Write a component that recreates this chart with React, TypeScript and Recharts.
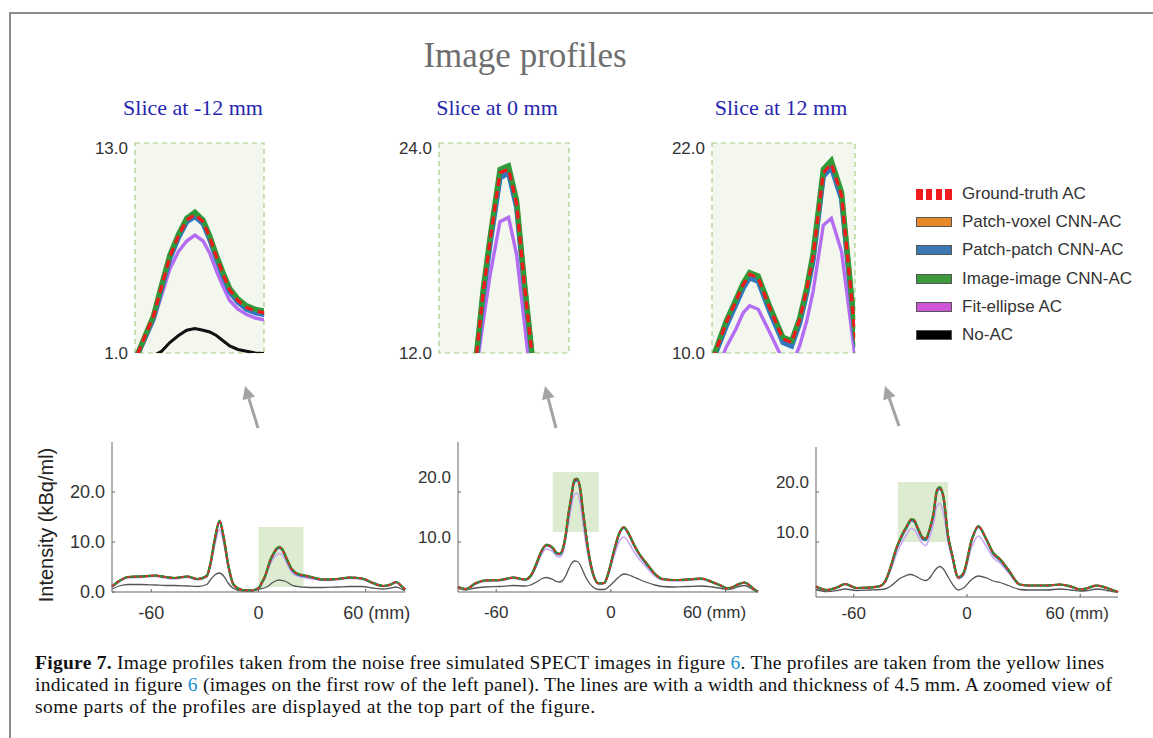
import React from "react";
import { LineChart, Line, XAxis, YAxis, ReferenceArea } from "recharts";

const SANS = "'Liberation Sans', Arial, sans-serif";
const SERIF = "'Liberation Serif', 'Times New Roman', serif";

// ---- profile at slice -12 mm (x in mm, intensity in kBq/ml) ----
const xs1 = [-82, -78, -73, -66, -58, -52, -47, -40, -34, -29, -27, -24.5, -21.8, -19.5, -17, -14, -9, -4, -1, 0.6, 2, 3.6, 5.2, 6.8, 8.5, 10.1, 11.7, 13.3, 14.6, 15.9, 17.2, 18.5, 20.1, 21.8, 23.5, 25.2, 30, 36, 44, 51, 58, 64, 70, 74, 77, 80, 82];
const gt1 = [1.1, 2.2, 3.0, 3.1, 3.3, 3.0, 2.8, 3.1, 2.6, 3.2, 5.5, 10.5, 14.2, 11.0, 5.5, 1.5, 0.4, 0.3, 0.6, 1.0, 2.0, 3.1, 4.8, 6.5, 7.7, 8.6, 8.9, 8.5, 7.6, 6.5, 5.5, 4.6, 4.0, 3.6, 3.4, 3.3, 2.9, 2.5, 2.6, 2.9, 2.7, 1.8, 1.2, 1.5, 2.0, 1.2, 0.5];
const pv1 = [1.1, 2.2, 3.0, 3.1, 3.3, 3.0, 2.8, 3.1, 2.6, 3.2, 5.5, 10.4, 14.1, 10.9, 5.5, 1.5, 0.4, 0.3, 0.6, 1.0, 2.0, 3.1, 4.8, 6.5, 7.7, 8.6, 8.9, 8.5, 7.6, 6.5, 5.5, 4.6, 4.0, 3.6, 3.4, 3.3, 2.9, 2.5, 2.6, 2.9, 2.7, 1.8, 1.2, 1.5, 2.0, 1.2, 0.5];
const pp1 = [1.1, 2.2, 3.0, 3.1, 3.3, 3.0, 2.8, 3.1, 2.6, 3.2, 5.4, 10.3, 14.0, 10.8, 5.4, 1.5, 0.4, 0.3, 0.6, 1.0, 1.9, 3.0, 4.7, 6.4, 7.6, 8.5, 8.8, 8.4, 7.5, 6.4, 5.4, 4.5, 3.9, 3.5, 3.3, 3.2, 2.9, 2.5, 2.6, 2.9, 2.7, 1.8, 1.2, 1.5, 2.0, 1.2, 0.5];
const ii1 = [1.1, 2.2, 3.0, 3.1, 3.3, 3.0, 2.8, 3.1, 2.6, 3.2, 5.6, 10.6, 14.3, 11.1, 5.6, 1.5, 0.4, 0.3, 0.6, 1.0, 2.0, 3.1, 4.9, 6.6, 7.8, 8.7, 9.05, 8.6, 7.7, 6.6, 5.6, 4.7, 4.1, 3.7, 3.5, 3.4, 3.0, 2.5, 2.6, 2.9, 2.7, 1.8, 1.2, 1.5, 2.0, 1.2, 0.5];
const fe1 = [1.0, 2.0, 2.8, 2.9, 3.1, 2.8, 2.6, 2.9, 2.4, 3.0, 5.1, 9.4, 12.5, 9.8, 5.0, 1.4, 0.4, 0.3, 0.6, 0.8, 1.8, 2.8, 4.3, 5.8, 6.8, 7.4, 7.74, 7.4, 6.7, 5.7, 4.8, 4.0, 3.5, 3.2, 3.0, 2.9, 2.6, 2.3, 2.4, 2.7, 2.5, 1.7, 1.1, 1.4, 1.8, 1.1, 0.5];
const na1 = [0.6, 1.2, 1.5, 1.5, 1.4, 1.3, 1.3, 1.2, 1.1, 1.5, 2.4, 3.4, 3.8, 3.2, 1.8, 0.7, 0.2, 0.2, 0.4, 0.6, 0.7, 0.85, 1.1, 1.6, 2.0, 2.3, 2.4, 2.3, 2.2, 2.0, 1.7, 1.4, 1.2, 1.1, 1.0, 0.97, 0.9, 0.9, 1.0, 1.1, 1.1, 0.8, 0.6, 0.8, 1.0, 0.6, 0.2];

// ---- profile at slice 0 mm ----
const xs2 = [-80, -76, -71, -66, -58, -51, -45, -42, -38.9, -36.5, -33.7, -30.4, -28.5, -26.8, -25, -23.4, -22.2, -20.9, -19.1, -17.5, -16.0, -14.6, -13.2, -11.5, -9.4, -6.3, -3.5, -1, 1.5, 4.5, 6.8, 9.5, 12, 15, 19, 23, 27, 33, 40, 47, 53, 58, 61, 64, 67, 70, 73, 75, 77];
const gt2 = [1.0, 0.6, 1.7, 2.3, 2.4, 2.9, 2.5, 3.2, 5.7, 8.0, 9.4, 8.8, 7.8, 7.6, 8.8, 12.0, 15.5, 18.5, 22.3, 22.5, 20.5, 16.0, 12.0, 7.5, 3.7, 1.7, 1.8, 4.2, 8.0, 11.8, 12.9, 11.5, 9.5, 7.5, 5.5, 3.6, 2.6, 2.4, 2.5, 2.7, 2.0, 1.2, 0.7, 1.0, 1.6, 1.9, 1.2, 0.5, 0.1];
const pv2 = [1.0, 0.6, 1.7, 2.3, 2.4, 2.9, 2.5, 3.2, 5.7, 8.0, 9.4, 8.8, 7.8, 7.6, 8.8, 12.0, 15.5, 18.5, 22.2, 22.4, 20.5, 16.0, 12.0, 7.5, 3.7, 1.7, 1.8, 4.2, 8.0, 11.8, 12.9, 11.5, 9.5, 7.5, 5.5, 3.6, 2.6, 2.4, 2.5, 2.7, 2.0, 1.2, 0.7, 1.0, 1.6, 1.9, 1.2, 0.5, 0.1];
const pp2 = [1.0, 0.6, 1.7, 2.3, 2.4, 2.9, 2.5, 3.2, 5.6, 7.9, 9.3, 8.7, 7.7, 7.5, 8.7, 11.8, 15.3, 18.3, 22.0, 22.3, 20.3, 15.9, 11.9, 7.4, 3.7, 1.7, 1.8, 4.1, 7.9, 11.7, 12.8, 11.4, 9.4, 7.4, 5.4, 3.6, 2.6, 2.4, 2.5, 2.7, 2.0, 1.2, 0.7, 1.0, 1.6, 1.9, 1.2, 0.5, 0.1];
const ii2 = [1.0, 0.6, 1.7, 2.3, 2.4, 2.9, 2.5, 3.2, 5.8, 8.1, 9.5, 8.9, 7.9, 7.7, 8.9, 12.1, 15.7, 18.7, 22.5, 22.7, 20.7, 16.2, 12.1, 7.6, 3.8, 1.7, 1.8, 4.3, 8.1, 11.9, 13.0, 11.6, 9.6, 7.6, 5.6, 3.7, 2.6, 2.4, 2.5, 2.7, 2.0, 1.2, 0.7, 1.0, 1.6, 1.9, 1.2, 0.5, 0.1];
const fe2 = [0.9, 0.5, 1.5, 2.1, 2.2, 2.7, 2.3, 3.0, 5.2, 7.4, 8.6, 8.1, 7.2, 7.0, 8.0, 11.2, 13.8, 16.5, 19.5, 19.75, 17.6, 13.8, 10.0, 6.5, 3.3, 1.6, 1.7, 3.8, 7.0, 10.2, 11.0, 9.8, 8.1, 6.5, 4.8, 3.2, 2.4, 2.2, 2.3, 2.5, 1.9, 1.1, 0.6, 0.9, 1.5, 1.8, 1.1, 0.5, 0.1];
const na2 = [0.7, 0.4, 0.8, 1.0, 1.1, 1.3, 1.2, 1.4, 2.0, 2.6, 2.9, 2.5, 2.1, 2.0, 2.4, 3.4, 4.5, 5.5, 6.2, 6.1, 5.4, 4.2, 3.0, 1.9, 1.0, 0.5, 0.5, 1.1, 2.0, 3.1, 3.6, 3.4, 3.0, 2.5, 1.9, 1.4, 1.1, 1.0, 1.1, 1.2, 1.0, 0.7, 0.5, 0.7, 1.1, 1.3, 0.8, 0.3, 0.0];

// ---- profile at slice 12 mm ----
const xs3 = [-80, -74.3, -69, -64.6, -58.5, -51.4, -46, -43.4, -40, -37.8, -35.9, -34.0, -32.1, -30.8, -29.6, -28.0, -25.9, -23.4, -21.8, -20.3, -19.0, -17.8, -15.9, -14.4, -12.5, -10.0, -8.1, -4.6, -1.9, 2.5, 6.0, 10.4, 14.0, 17.5, 21.9, 28, 33, 42, 49.3, 55, 59.9, 64, 68.8, 74.1, 77, 80];
const gt3 = [1.1, 0.4, 0.9, 1.6, 0.8, 0.9, 1.2, 2.1, 5.5, 8.3, 10.1, 11.7, 13.0, 13.9, 14.5, 14.3, 12.6, 10.8, 10.6, 11.9, 13.6, 15.5, 20.3, 20.8, 19.0, 11.1, 7.8, 2.9, 3.7, 10.4, 13.1, 10.4, 7.7, 6.5, 4.4, 1.5, 1.3, 1.3, 1.5, 1.1, 0.5, 0.8, 1.3, 0.8, 0.4, 0.0];
const pv3 = [1.1, 0.4, 0.9, 1.6, 0.8, 0.9, 1.2, 2.1, 5.5, 8.3, 10.1, 11.7, 13.0, 13.9, 14.4, 14.2, 12.6, 10.8, 10.6, 11.9, 13.6, 15.5, 20.2, 20.7, 19.0, 11.1, 7.8, 2.9, 3.7, 10.4, 13.1, 10.4, 7.7, 6.5, 4.4, 1.5, 1.3, 1.3, 1.5, 1.1, 0.5, 0.8, 1.3, 0.8, 0.4, 0.0];
const pp3 = [1.1, 0.4, 0.9, 1.6, 0.8, 0.9, 1.2, 2.1, 5.4, 8.2, 10.0, 11.5, 12.8, 13.7, 14.3, 14.1, 12.4, 10.6, 10.4, 11.7, 13.4, 15.3, 20.1, 20.6, 18.8, 11.0, 7.7, 2.9, 3.6, 10.3, 13.0, 10.3, 7.6, 6.4, 4.3, 1.5, 1.3, 1.3, 1.5, 1.1, 0.5, 0.8, 1.3, 0.8, 0.4, 0.0];
const ii3 = [1.1, 0.4, 0.9, 1.6, 0.8, 0.9, 1.2, 2.1, 5.6, 8.4, 10.2, 11.8, 13.1, 14.0, 14.6, 14.4, 12.7, 10.9, 10.7, 12.0, 13.7, 15.7, 20.5, 21.0, 19.2, 11.2, 7.9, 3.0, 3.8, 10.5, 13.2, 10.5, 7.8, 6.6, 4.5, 1.5, 1.3, 1.3, 1.5, 1.1, 0.5, 0.8, 1.3, 0.8, 0.4, 0.0];
const fe3 = [1.0, 0.3, 0.8, 1.5, 0.7, 0.8, 1.1, 1.9, 4.8, 7.2, 8.8, 10.3, 11.4, 12.3, 12.7, 12.5, 11.2, 9.6, 9.3, 10.4, 11.8, 13.5, 17.3, 17.7, 15.8, 9.8, 7.0, 2.6, 3.3, 9.0, 11.2, 9.0, 6.8, 5.8, 3.9, 1.4, 1.2, 1.2, 1.4, 1.0, 0.5, 0.7, 1.2, 0.7, 0.4, 0.0];
const na3 = [0.5, 0.1, 0.3, 0.6, 0.3, 0.4, 0.5, 0.6, 1.3, 2.0, 2.6, 3.0, 3.3, 3.5, 3.5, 3.3, 2.9, 2.4, 2.3, 2.6, 3.2, 3.9, 4.8, 5.1, 4.6, 3.0, 1.8, 0.4, 0.8, 2.5, 3.2, 2.8, 2.2, 1.9, 1.3, 0.5, 0.4, 0.4, 0.6, 0.4, 0.2, 0.3, 0.6, 0.3, 0.1, 0.0];

// zoomed windows: [xFrom, xTo, yFrom, yTo]
const win1 = [0, 25.2, 1, 13];
const win2 = [-30.4, -6.3, 12, 24];
const win3 = [-36.6, -10, 10, 22];

const xTicks = [-60, 0, 60];
const sliceTitles = ["Slice at -12 mm", "Slice at 0 mm", "Slice at 12 mm"];

const legendItems = [
  { name: "Ground-truth AC", color: "#ee1c1c", dashed: true },
  { name: "Patch-voxel CNN-AC", color: "#e8892a" },
  { name: "Patch-patch CNN-AC", color: "#3b78b2" },
  { name: "Image-image CNN-AC", color: "#3d9a3d" },
  { name: "Fit-ellipse AC", color: "#cf55d8" },
  { name: "No-AC", color: "#000000" },
];

const makeRows = (xs: number[], gt: number[], pv: number[], pp: number[], ii: number[], fe: number[], na: number[]) =>
  xs.map((x, i) => ({ x, gt: gt[i], pv: pv[i], pp: pp[i], ii: ii[i], fe: fe[i], na: na[i] }));

const rows1 = makeRows(xs1, gt1, pv1, pp1, ii1, fe1, na1);
const rows2 = makeRows(xs2, gt2, pv2, pp2, ii2, fe2, na2);
const rows3 = makeRows(xs3, gt3, pv3, pp3, ii3, fe3, na3);

// line styles: bottom (full profile) and top (zoomed)
const BOTTOM = [
  { key: "na", stroke: "#555555", w: 1.3 },
  { key: "fe", stroke: "#c9a8f2", w: 1.6 },
  { key: "pv", stroke: "#e07b1f", w: 2.2 },
  { key: "pp", stroke: "#2f6fb0", w: 2.2 },
  { key: "ii", stroke: "#2e8b2e", w: 2.2 },
  { key: "gt", stroke: "#e8262a", w: 1.7, dash: "3 3" },
];
const TOP = [
  { key: "na", stroke: "#111111", w: 3 },
  { key: "fe", stroke: "#b36cf2", w: 3.4 },
  { key: "pv", stroke: "#f08a24", w: 5.2 },
  { key: "pp", stroke: "#2f78c0", w: 5.2 },
  { key: "ii", stroke: "#2f9a3a", w: 5.2 },
  { key: "gt", stroke: "#ee1c1c", w: 3.4, dash: "8 5" },
];

const PROFILES = [
  { rows: rows1, win: win1, left: 112, top: 442, w: 293, xDom: [-82, 82], yDom: [0, 30], yTicks: [0, 10, 20], yDy: {} as Record<number, number>, fs: 18, tm: 17, mmDx: 11 },
  { rows: rows2, win: win2, left: 458, top: 442, w: 300, xDom: [-80, 77], yDom: [0, 30], yTicks: [10, 20], yDy: { 20: -15, 10: -5 } as Record<number, number>, fs: 17, tm: 17, mmDx: -11 },
  { rows: rows3, win: win3, left: 816, top: 447, w: 302, xDom: [-80, 80], yDom: [-1, 29], yTicks: [10, 20], yDy: { 20: -10, 10: -10 } as Record<number, number>, fs: 17, tm: 13, mmDx: -3 },
];

const ZOOMS = [
  { rows: rows1, win: win1, left: 135, w: 129 },
  { rows: rows2, win: win2, left: 439, w: 130 },
  { rows: rows3, win: win3, left: 712, w: 143 },
];

const YTick = (props: any) => {
  const { x, y, payload, fs, dyMap } = props;
  const dy = (dyMap && dyMap[payload.value]) || 0;
  return (
    <text x={x} y={y + dy} textAnchor="end" dominantBaseline="central" fontSize={fs} fill="#333" fontFamily={SANS}>
      {Number(payload.value).toFixed(1)}
    </text>
  );
};

const XTick = (props: any) => {
  const { x, y, payload, fs, mmDx } = props;
  const v = payload.value;
  return (
    <text x={x + (v === 60 ? mmDx : 0)} y={y} dy="0.71em" textAnchor="middle" fontSize={fs} fill="#333" fontFamily={SANS}>
      {v === 60 ? "60 (mm)" : String(v)}
    </text>
  );
};

function Profile({ cfg }: { cfg: (typeof PROFILES)[number] }) {
  const yw = 50;
  return (
    <div style={{ position: "absolute", left: cfg.left - yw, top: cfg.top - 5 }}>
      <LineChart width={yw + cfg.w + 45} height={5 + 150 + 35} data={cfg.rows} margin={{ top: 5, right: 45, bottom: 0, left: 0 }}>
        <XAxis
          dataKey="x"
          type="number"
          domain={cfg.xDom}
          ticks={xTicks}
          interval={0}
          height={35}
          stroke="#666"
          tickSize={-3}
          tickMargin={cfg.tm}
          tick={(p: any) => <XTick {...p} fs={cfg.fs} mmDx={cfg.mmDx} />}
        />
        <YAxis
          type="number"
          domain={cfg.yDom}
          ticks={cfg.yTicks}
          interval={0}
          width={yw}
          stroke="#666"
          tickSize={-3}
          tickMargin={10}
          tick={(p: any) => <YTick {...p} fs={cfg.fs} dyMap={cfg.yDy} />}
        />
        <ReferenceArea x1={cfg.win[0]} x2={cfg.win[1]} y1={cfg.win[2]} y2={cfg.win[3]} fill="#cfe2bc" fillOpacity={0.7} stroke="none" />
        {BOTTOM.map((s) => (
          <Line
            key={s.key}
            type="monotone"
            dataKey={s.key}
            stroke={s.stroke}
            strokeWidth={s.w}
            strokeDasharray={s.dash}
            dot={false}
            activeDot={false}
            isAnimationActive={false}
          />
        ))}
      </LineChart>
    </div>
  );
}

function Zoom({ cfg }: { cfg: (typeof ZOOMS)[number] }) {
  const yw = 60;
  const [x0, x1, y0, y1] = cfg.win;
  return (
    <div style={{ position: "absolute", left: cfg.left - yw, top: 143 - 8 }}>
      <LineChart width={yw + cfg.w + 2} height={8 + 210 + 12} data={cfg.rows} margin={{ top: 8, right: 2, bottom: 12, left: 0 }}>
        <XAxis dataKey="x" type="number" domain={[x0, x1]} allowDataOverflow hide />
        <YAxis
          type="number"
          domain={[y0, y1]}
          allowDataOverflow
          ticks={[y0, y1]}
          interval={0}
          width={yw}
          axisLine={false}
          tickLine={false}
          tickMargin={1}
          tick={(p: any) => <YTick {...p} fs={17} dyMap={{ [y1]: 5 }} />}
        />
        <ReferenceArea x1={x0} x2={x1} y1={y0} y2={y1} fill="#f3f7ee" fillOpacity={1} stroke="#a6cf86" strokeDasharray="5 4" strokeWidth={1.2} />
        {TOP.map((s) => (
          <Line
            key={s.key}
            type="linear"
            dataKey={s.key}
            stroke={s.stroke}
            strokeWidth={s.w}
            strokeDasharray={s.dash}
            dot={false}
            activeDot={false}
            isAnimationActive={false}
          />
        ))}
      </LineChart>
    </div>
  );
}

function Arrow({ x1, y1, x2, y2 }: { x1: number; y1: number; x2: number; y2: number }) {
  const a = Math.atan2(y2 - y1, x2 - x1);
  const L = 13;
  const W = 6.5;
  const bx = x2 - L * Math.cos(a);
  const by = y2 - L * Math.sin(a);
  const px = -Math.sin(a) * W;
  const py = Math.cos(a) * W;
  return (
    <g>
      <line x1={x1} y1={y1} x2={bx} y2={by} stroke="#a3a3a3" strokeWidth={3} />
      <polygon points={`${x2},${y2} ${bx + px},${by + py} ${bx - px},${by - py}`} fill="#a3a3a3" />
    </g>
  );
}

export default function App() {
  const titleX = [193, 497, 781];
  return (
    <div style={{ position: "absolute", left: 0, top: 0, width: 1153, height: 738, background: "#fff", overflow: "hidden" }}>
      {/* figure frame */}
      <div style={{ position: "absolute", left: 9, top: 12, width: 1170, height: 760, border: "2px solid #8c8c8c" }} />

      {ZOOMS.map((z, i) => (
        <Zoom key={i} cfg={z} />
      ))}
      {PROFILES.map((p, i) => (
        <Profile key={i} cfg={p} />
      ))}

      {/* legend */}
      {legendItems.map((it, i) => (
        <div key={it.name} style={{ position: "absolute", left: 916, top: 180 + i * 28.2, height: 28, display: "flex", alignItems: "center" }}>
          {it.dashed ? (
            <div style={{ width: 36, height: 11, display: "flex", justifyContent: "space-between" }}>
              {[0, 1, 2, 3].map((k) => (
                <div key={k} style={{ width: 6.5, height: 11, background: it.color }} />
              ))}
            </div>
          ) : (
            <div style={{ width: 34, height: 8, background: it.color, border: "1px solid #555" }} />
          )}
          <span style={{ marginLeft: 10, fontFamily: SANS, fontSize: 17, color: "#333", whiteSpace: "nowrap" }}>{it.name}</span>
        </div>
      ))}

      <svg width={1153} height={738} style={{ position: "absolute", left: 0, top: 0, pointerEvents: "none" }}>
        <text x={525} y={55} textAnchor="middle" dominantBaseline="central" fontFamily={SERIF} fontSize={35} fill="#6e6e6e">
          Image profiles
        </text>
        {sliceTitles.map((t, i) => (
          <text key={t} x={titleX[i]} y={107} textAnchor="middle" dominantBaseline="central" fontFamily={SERIF} fontSize={22} fill="#2727b0">
            {t}
          </text>
        ))}
        <Arrow x1={258} y1={428} x2={245} y2={386} />
        <Arrow x1={556} y1={428} x2={545} y2={386} />
        <Arrow x1={899} y1={426} x2={885} y2={386} />
        <text
          x={46}
          y={525}
          transform="rotate(-90 46 525)"
          textAnchor="middle"
          dominantBaseline="central"
          fontFamily={SANS}
          fontSize={20}
          fill="#222"
        >
          Intensity (kBq/ml)
        </text>
        <text x={35} y={669} textLength={1069} lengthAdjust="spacing" fontFamily={SERIF} fontSize={19.5} fill="#111">
          <tspan fontWeight="bold">Figure 7.</tspan> Image profiles taken from the noise free simulated SPECT images in figure{" "}
          <tspan fill="#1e8fd0">6</tspan>. The profiles are taken from the yellow lines
        </text>
        <text x={35} y={691} textLength={1077} lengthAdjust="spacing" fontFamily={SERIF} fontSize={19.5} fill="#111">
          indicated in figure <tspan fill="#1e8fd0">6</tspan> (images on the first row of the left panel). The lines are with a width and thickness of 4.5 mm. A zoomed view of
        </text>
        <text x={35} y={713} textLength={560} lengthAdjust="spacing" fontFamily={SERIF} fontSize={19.5} fill="#111">
          some parts of the profiles are displayed at the top part of the figure.
        </text>
      </svg>
    </div>
  );
}
